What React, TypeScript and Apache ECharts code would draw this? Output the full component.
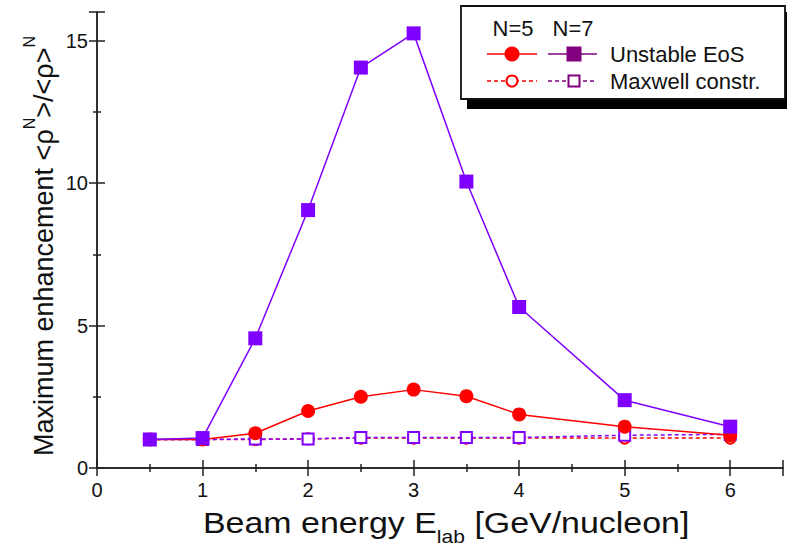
import React, { useEffect, useRef } from "react";
import * as echarts from "echarts";

const energies = [0.5, 1, 1.5, 2, 2.5, 3, 3.5, 4, 5, 6];
const unstableN5 = [1.0, 1.0, 1.22, 2.0, 2.5, 2.75, 2.52, 1.88, 1.45, 1.15];
const unstableN7 = [1.0, 1.05, 4.55, 9.05, 14.05, 15.25, 10.05, 5.65, 2.38, 1.45];
const maxwellN5 = [1.0, 1.0, 1.0, 1.02, 1.05, 1.05, 1.05, 1.05, 1.05, 1.05];
const maxwellN7 = [1.0, 1.0, 1.02, 1.02, 1.07, 1.07, 1.07, 1.07, 1.15, 1.18];
const xTicks = [0, 1, 2, 3, 4, 5, 6];
const yTicks = [0, 5, 10, 15];

const RED = "#ff0000";
const VIOLET = "#7f00ff";
const LEG_PURPLE = "#800080";
const FONT = "'Liberation Sans', Arial, sans-serif";

const pair = (ys: number[]) => energies.map((x, i) => [x, ys[i]]);

export default function App() {
  const ref = useRef<HTMLDivElement>(null);
  useEffect(() => {
    if (!ref.current) return;
    const chart = echarts.init(ref.current, null, { renderer: "svg" });
    const axisLine = { show: true, lineStyle: { color: "#222", width: 1.5 } };
    const tickStyle = { color: "#222", width: 1.5 };
    const baseX = {
      type: "value" as const,
      min: 0,
      max: 6.5,
      interval: 1,
      axisLine,
      axisTick: { show: true, inside: true, length: 8, lineStyle: tickStyle },
      minorTick: { show: true, splitNumber: 2, length: 4, lineStyle: tickStyle },
      splitLine: { show: false },
      minorSplitLine: { show: false },
    };
    const baseY = {
      type: "value" as const,
      min: 0,
      max: 16,
      interval: 5,
      axisLine,
      axisTick: { show: true, inside: true, length: 8, lineStyle: tickStyle },
      minorTick: { show: true, splitNumber: 2, length: 4, lineStyle: tickStyle },
      splitLine: { show: false },
      minorSplitLine: { show: false },
    };
    const lx0 = 487, lx1 = 537, lc = 512;
    const px0 = 548, px1 = 597, pc = 574;
    const r1 = 54, r2 = 81;
    const legendText = (text: string, x: number, y: number, align: string) => ({
      type: "text",
      x,
      y,
      style: { text, font: `22px ${FONT}`, fill: "#111", textAlign: align, textVerticalAlign: "middle" },
      z: 102,
    });
    chart.setOption({
      animation: false,
      backgroundColor: "#fff",
      textStyle: { fontFamily: FONT },
      grid: { left: 97, right: 4, top: 12, bottom: 78 },
      xAxis: [
        {
          ...baseX,
          position: "bottom",
          axisLabel: {
            show: true,
            fontSize: 20,
            color: "#111",
            fontFamily: FONT,
            margin: 12,
            formatter: (v: number) => (xTicks.includes(v) ? String(v) : ""),
          },
        },
        { ...baseX, position: "top", axisLabel: { show: false } },
      ],
      yAxis: [
        {
          ...baseY,
          position: "left",
          axisLabel: {
            show: true,
            fontSize: 20,
            color: "#111",
            fontFamily: FONT,
            margin: 9,
            formatter: (v: number) => (yTicks.includes(v) ? String(v) : ""),
          },
        },
        { ...baseY, position: "right", axisLabel: { show: false } },
      ],
      series: [
        {
          name: "Maxwell N=5",
          type: "line",
          data: pair(maxwellN5),
          symbol: "emptyCircle",
          symbolSize: 11,
          showSymbol: true,
          lineStyle: { color: RED, width: 1.5, type: [4, 3] },
          itemStyle: { color: RED, borderColor: RED, borderWidth: 2 },
          z: 2,
        },
        {
          name: "Maxwell N=7",
          type: "line",
          data: pair(maxwellN7),
          symbol: "emptyRect",
          symbolSize: 11,
          showSymbol: true,
          lineStyle: { color: VIOLET, width: 1.5, type: [4, 3] },
          itemStyle: { color: VIOLET, borderColor: VIOLET, borderWidth: 2 },
          z: 3,
        },
        {
          name: "Unstable N=5",
          type: "line",
          data: pair(unstableN5),
          symbol: "circle",
          symbolSize: 14,
          lineStyle: { color: RED, width: 1.5 },
          itemStyle: { color: RED },
          z: 4,
        },
        {
          name: "Unstable N=7",
          type: "line",
          data: pair(unstableN7),
          symbol: "rect",
          symbolSize: 14,
          lineStyle: { color: VIOLET, width: 1.5 },
          itemStyle: { color: VIOLET },
          z: 5,
        },
      ],
      graphic: [
        {
          type: "text",
          x: 203,
          y: 508,
          scaleX: 1.17,
          style: {
            text: "{n|Beam energy E}{sub|lab}{n| [GeV/nucleon]}",
            textAlign: "left",
            textVerticalAlign: "top",
            fill: "#111",
            rich: {
              n: { fontSize: 29, fontFamily: FONT, fill: "#111", lineHeight: 38, verticalAlign: "top" },
              sub: { fontSize: 18, fontFamily: FONT, fill: "#111", lineHeight: 38, verticalAlign: "bottom" },
            },
          },
          z: 50,
        },
        {
          type: "text",
          x: 39,
          y: 246,
          rotation: Math.PI / 2,
          style: {
            text: "{n|Maximum enhancement <ρ}{sup|N}{n|>/<ρ>}{sup|N}",
            textAlign: "center",
            textVerticalAlign: "middle",
            fill: "#111",
            rich: {
              n: { fontSize: 27, fontFamily: FONT, fill: "#111", lineHeight: 36, verticalAlign: "bottom" },
              sup: { fontSize: 16, fontFamily: FONT, fill: "#111", lineHeight: 36, verticalAlign: "top" },
            },
          },
          z: 50,
        },
        { type: "rect", shape: { x: 467, y: 12, width: 330, height: 97 }, style: { fill: "#000" }, z: 100 },
        { type: "rect", shape: { x: 461, y: 6, width: 324, height: 93 }, style: { fill: "#fff", stroke: "#111", lineWidth: 1.8 }, z: 101 },
        legendText("N=5", lc + 1, 28, "center"),
        legendText("N=7", pc - 1, 28, "center"),
        { type: "line", shape: { x1: lx0, y1: r1, x2: lx1, y2: r1 }, style: { stroke: RED, lineWidth: 1.5 }, z: 102 },
        { type: "circle", shape: { cx: lc, cy: r1, r: 7.5 }, style: { fill: RED }, z: 103 },
        { type: "line", shape: { x1: px0, y1: r1, x2: px1, y2: r1 }, style: { stroke: LEG_PURPLE, lineWidth: 1.5 }, z: 102 },
        { type: "rect", shape: { x: pc - 7.5, y: r1 - 7.5, width: 15, height: 15 }, style: { fill: LEG_PURPLE }, z: 103 },
        legendText("Unstable EoS", 610, r1, "left"),
        { type: "line", shape: { x1: lx0, y1: r2, x2: lx1, y2: r2 }, style: { stroke: RED, lineWidth: 1.5, lineDash: [4, 3] }, z: 102 },
        { type: "circle", shape: { cx: lc, cy: r2, r: 5.5 }, style: { fill: "#fff", stroke: RED, lineWidth: 2 }, z: 103 },
        { type: "line", shape: { x1: px0, y1: r2, x2: px1, y2: r2 }, style: { stroke: LEG_PURPLE, lineWidth: 1.5, lineDash: [4, 3] }, z: 102 },
        { type: "rect", shape: { x: pc - 5.5, y: r2 - 5.5, width: 11, height: 11 }, style: { fill: "#fff", stroke: LEG_PURPLE, lineWidth: 2 }, z: 103 },
        legendText("Maxwell constr.", 610, r2, "left"),
      ],
    });
    return () => chart.dispose();
  }, []);
  return <div ref={ref} style={{ position: "fixed", left: 0, top: 0, width: 787, height: 546 }} />;
}
